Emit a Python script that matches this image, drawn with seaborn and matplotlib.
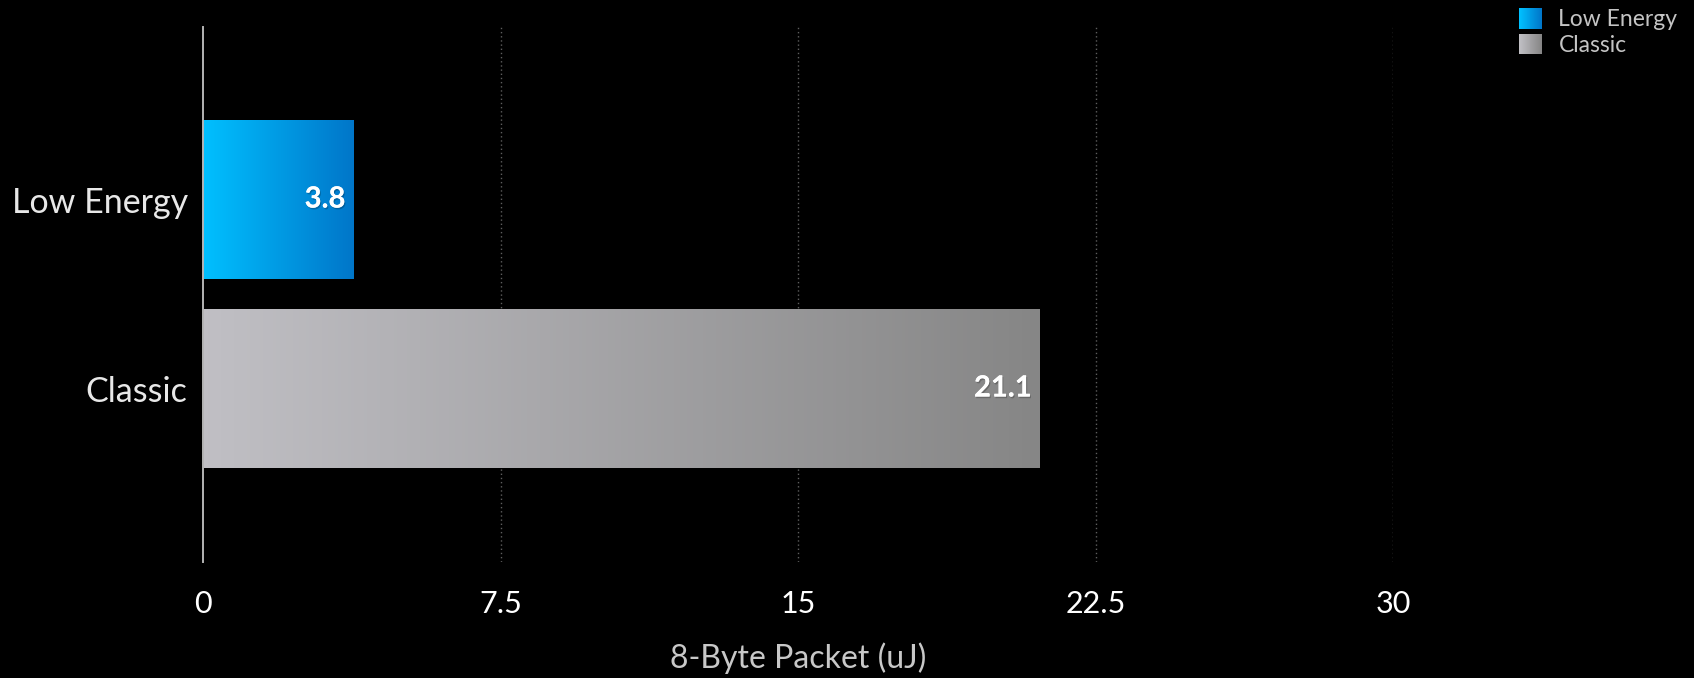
import numpy as np
import pandas as pd
import matplotlib
matplotlib.use("Agg")
import matplotlib.pyplot as plt
import seaborn as sns
from matplotlib.colors import LinearSegmentedColormap
from matplotlib.legend_handler import HandlerBase
from matplotlib.patches import Rectangle, Patch
import matplotlib.patheffects as pe

# ---- data ----
categories = ["Low Energy", "Classic"]
values = [3.8, 21.1]
value_labels = ["3.8", "21.1"]
xticks = [0, 7.5, 15, 22.5, 30]
xtick_labels = ["0", "7.5", "15", "22.5", "30"]
x_label = "8-Byte Packet (uJ)"
grad_start = ["#00c0ff", "#c0bfc4"]
grad_end = ["#0076c9", "#868686"]

sns.set_theme(style="dark")
plt.rcParams["font.family"] = ["Lato", "DejaVu Sans"]

W, H = 1694, 678
fig = plt.figure(figsize=(W / 100, H / 100), dpi=100, facecolor="black")
ax = fig.add_axes([203 / W, 1 - 562 / H, 1190 / W, 535 / H])
ax.set_facecolor("black")

df = pd.DataFrame({"cat": categories, "val": values})
mid_colors = {c: LinearSegmentedColormap.from_list("m", [a, b])(0.5)
              for c, a, b in zip(categories, grad_start, grad_end)}
sns.barplot(data=df, y="cat", x="val", hue="cat", palette=mid_colors,
            width=0.84, saturation=1, legend=False, ax=ax, zorder=2,
            linewidth=0, edgecolor="none")

# gradient fill clipped to each bar
grad = np.linspace(0, 1, 256).reshape(1, -1)
for patch, c0, c1 in zip(ax.patches, grad_start, grad_end):
    patch.set_linewidth(0)
    patch.set_edgecolor("none")
    x0, y0 = patch.get_x(), patch.get_y()
    w, h = patch.get_width(), patch.get_height()
    cmap = LinearSegmentedColormap.from_list("g", [c0, c1])
    im = ax.imshow(grad, cmap=cmap, extent=[x0, x0 + w, y0 + h, y0],
                   aspect="auto", zorder=3, interpolation="bilinear")
    im.set_clip_path(patch)

ax.set_xlim(0, 30)
ax.set_ylim(1.918, -0.913)

# value labels
for i, (v, lab) in enumerate(zip(values, value_labels)):
    ax.annotate(lab, xy=(v, i), xytext=(-6, 0), textcoords="offset points",
                ha="right", va="center", color="white", fontsize=21,
                fontweight="bold", zorder=5,
                path_effects=[pe.withSimplePatchShadow(offset=(0.8, -1.2),
                                                       shadow_rgbFace="black",
                                                       alpha=0.22),
                              pe.Normal()])

# axes styling
for s in ["top", "right", "bottom"]:
    ax.spines[s].set_visible(False)
ax.spines["left"].set_color("#b4b4b4")
ax.spines["left"].set_linewidth(1.4)
ax.spines["left"].set_zorder(4)

ax.set_xticks(xticks)
ax.set_xticklabels(xtick_labels)
ax.grid(False)
for t in xticks[1:]:
    ax.axvline(t, color="#5e5e5e", linestyle=(0, (1, 2)), linewidth=1, zorder=1)

ax.tick_params(axis="x", length=0, labelsize=22, labelcolor="white", pad=20)
ax.tick_params(axis="y", length=0, labelsize=24.5, labelcolor="#e8e8e8", pad=11)
ax.set_ylabel("")
ax.set_xlabel(x_label, fontsize=23, color="#c8c8c8", labelpad=18)


# legend with gradient squares
class GradHandler(HandlerBase):
    def __init__(self, c0, c1):
        super().__init__()
        self.c0, self.c1 = c0, c1

    def create_artists(self, legend, orig_handle, xdescent, ydescent,
                       width, height, fontsize, trans):
        cmap = LinearSegmentedColormap.from_list("lg", [self.c0, self.c1])
        n = 24
        arts = []
        for k in range(n):
            r = Rectangle((-xdescent + width * k / n, -ydescent),
                          width / n * 1.1, height,
                          facecolor=cmap(k / (n - 1)), edgecolor="none",
                          transform=trans)
            arts.append(r)
        return arts


handles = [Patch(label=c) for c in categories]
hmap = {h: GradHandler(a, b) for h, a, b in zip(handles, grad_start, grad_end)}
leg = fig.legend(handles=handles, labels=categories, handler_map=hmap,
                 loc="upper left", bbox_to_anchor=(1519 / W, 1 - 8 / H),
                 frameon=False, fontsize=16.5, handlelength=1.0,
                 handleheight=1.0, handletextpad=0.72, labelspacing=0.15,
                 borderpad=0, borderaxespad=0)
for t in leg.get_texts():
    t.set_color("#c4c4c4")

fig.savefig("out.png", dpi=100, facecolor="black")
